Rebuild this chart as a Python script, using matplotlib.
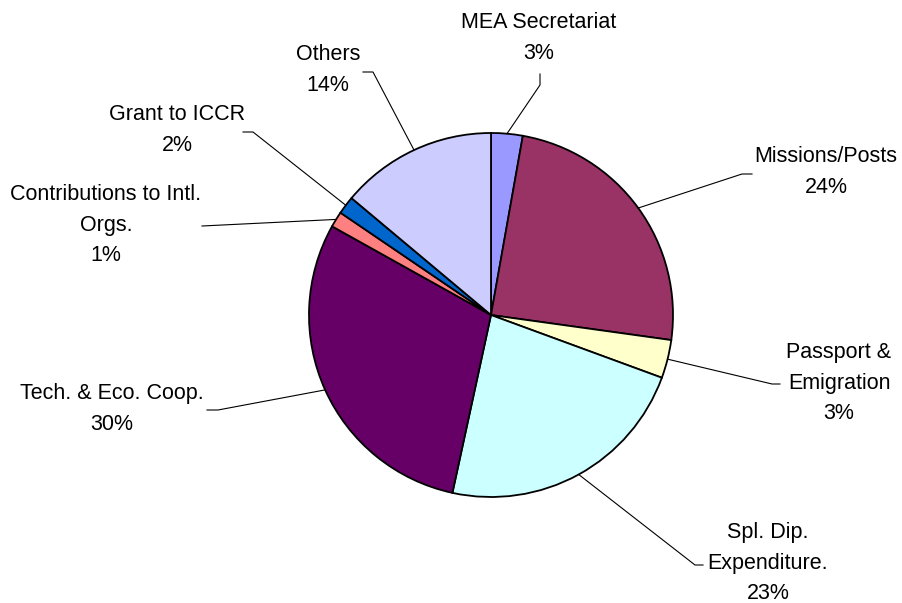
import numpy as np
import matplotlib
matplotlib.use('Agg')
import matplotlib.pyplot as plt

# data (share of budget, %)
labels = ['MEA Secretariat', 'Missions/Posts', 'Passport &\nEmigration',
          'Spl. Dip.\nExpenditure.', 'Tech. & Eco. Coop.',
          'Contributions to Intl.\nOrgs.', 'Grant to ICCR', 'Others']
shares = [2.8, 24.4, 3.4, 22.8, 29.7, 1.4, 1.6, 13.9]
colors = ['#9999FF', '#993366', '#FFFFCC', '#CCFFFF', '#660066',
          '#FF8080', '#0066CC', '#CCCCFF']

# label layout in pixel coords (x, y from top): text centre, knee, stub end
text_pos = [(539, 38), (826, 172), (839, 383), (768, 563),
            (112, 409), (106, 225), (177, 130), (328, 70)]
knee_pos = [(540, 85), (742, 174), (772, 384), (695, 565),
            (218, 410), (202, 226), (253, 132), (373, 72)]
stub_pos = [(540, 74), (752, 174), (780, 384), (703, 565),
            (207, 410), (202, 226), (243, 132), (363, 72)]

W, H = 902, 603
cx, cy, r = 491, 315, 182

plt.rcParams['font.family'] = ['Liberation Sans', 'DejaVu Sans']

fig = plt.figure(figsize=(W / 100, H / 100), dpi=100)
ax = fig.add_axes([0, 0, 1, 1])

wedges, _ = ax.pie(shares, colors=colors, startangle=90, counterclock=False,
                   center=(cx, H - cy), radius=r,
                   wedgeprops=dict(edgecolor='black', linewidth=1.3))

# pie() sets its own limits, so put the pixel frame back afterwards
ax.set_xlim(0, W)
ax.set_ylim(0, H)
ax.set_aspect('equal')
ax.axis('off')

for i, w in enumerate(wedges):
    mid = np.deg2rad((w.theta1 + w.theta2) / 2)
    ex = cx + r * np.cos(mid)
    ey = (H - cy) + r * np.sin(mid)
    kx, ky = knee_pos[i]
    sx, sy = stub_pos[i]
    ax.plot([ex, kx, sx], [ey, H - ky, H - sy], color='black', lw=0.8)
    tx, ty = text_pos[i]
    ax.text(tx, H - ty, labels[i] + '\n' + '%d%%' % round(shares[i]),
            ha='center', va='center', multialignment='center',
            fontsize=15.5, linespacing=1.6)

fig.savefig('out.png', dpi=100)
